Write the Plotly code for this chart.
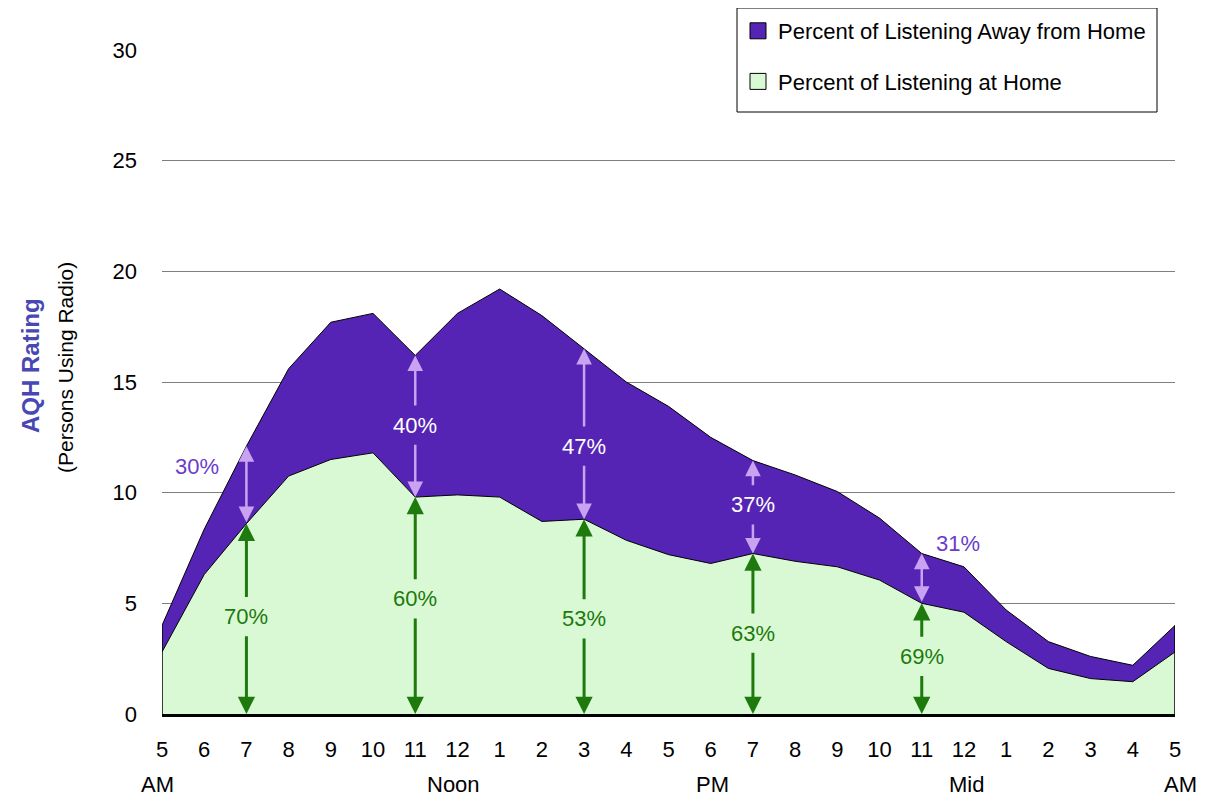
import plotly.graph_objects as go

# ---------------- data ----------------
hour_labels = ["5", "6", "7", "8", "9", "10", "11", "12", "1", "2", "3", "4",
               "5", "6", "7", "8", "9", "10", "11", "12", "1", "2", "3", "4", "5"]
period_labels = ["AM", "Noon", "PM", "Mid", "AM"]
period_pos = [0, 7, 13, 19, 24]

total_rating = [4.0, 8.35, 12.1, 15.6, 17.7, 18.1, 16.2, 18.1, 19.2, 18.0, 16.5, 15.0,
                13.9, 12.5, 11.45, 10.8, 10.05, 8.85, 7.25, 6.65, 4.7, 3.27, 2.6, 2.2, 4.0]
home_rating = [2.8, 6.3, 8.6, 10.75, 11.5, 11.8, 9.8, 9.9, 9.8, 8.7, 8.8, 7.85,
               7.2, 6.8, 7.25, 6.9, 6.65, 6.05, 5.0, 4.6, 3.27, 2.06, 1.6, 1.46, 2.8]

marker_idx = [2, 6, 10, 14, 18]          # 7AM, 11AM, 3PM, 7PM, 11PM
home_pct = ["70%", "60%", "53%", "63%", "69%"]
away_pct = ["30%", "40%", "47%", "37%", "31%"]

x = list(range(len(hour_labels)))

# ---------------- styles ----------------
FONT = "Liberation Sans, Arial, sans-serif"
FS = 22
PURPLE = "#5524b4"
GREEN_FILL = "#d9f9d5"
GREEN_ARROW = "#1e7a0c"
LILAC = "#caa2f2"
LABEL_PURPLE = "#6a3ccc"
TITLE_BLUE = "#4848b4"

W, H = 1197, 790
ML, MR, MT, MB = 154, 30, 42, 84
PW, PH = W - ML - MR, H - MT - MB


def px_to_paper_x(px):
    return (px - ML) / PW


def px_to_paper_y(py):
    return (H - MB - py) / PH


fig = go.Figure()

# stacked areas
fig.add_trace(go.Scatter(x=x, y=home_rating, mode="lines", fill="tozeroy",
                         fillcolor=GREEN_FILL, line=dict(color="black", width=1),
                         showlegend=False, hoverinfo="skip"))
fig.add_trace(go.Scatter(x=x, y=total_rating, mode="lines", fill="tonexty",
                         fillcolor=PURPLE, line=dict(color="black", width=1),
                         showlegend=False, hoverinfo="skip"))
# edges of the area at the ends
for i in (0, len(x) - 1):
    fig.add_trace(go.Scatter(x=[x[i], x[i]], y=[0, total_rating[i]], mode="lines",
                             line=dict(color="black", width=1.5),
                             showlegend=False, hoverinfo="skip"))

# legend entries
fig.add_trace(go.Scatter(x=[None], y=[None], mode="markers", legendgroup="away",
                         name="Percent of Listening Away from Home",
                         marker=dict(symbol="square", size=16, color=PURPLE,
                                     line=dict(color="black", width=1))))
fig.add_trace(go.Scatter(x=[None], y=[None], mode="markers", legendgroup="home",
                         name="Percent of Listening at Home",
                         marker=dict(symbol="square", size=16, color=GREEN_FILL,
                                     line=dict(color="black", width=1))))

annotations = []


def arrow(xh, yh, xt, yt, color, width, size, both=False):
    annotations.append(dict(x=xh, y=yh, ax=xt, ay=yt, xref="x", yref="y",
                            axref="x", ayref="y", text="", showarrow=True,
                            arrowhead=2, arrowsize=size, arrowwidth=width,
                            arrowcolor=color,
                            arrowside="end+start" if both else "end",
                            startarrowhead=2, startarrowsize=size))


def label(xp, yp, txt, color):
    annotations.append(dict(x=xp, y=yp, xref="x", yref="y", text=txt,
                            showarrow=False, xanchor="center", yanchor="middle",
                            font=dict(family=FONT, size=FS, color=color)))


GAP = 0.82
green_label_y = [4.4, 5.2, 4.3, 3.65, 2.6]
white_label_y = [None, 13.05, 12.1, 9.45, None]

for k, i in enumerate(marker_idx):
    xi = x[i]
    h = home_rating[i]
    t = total_rating[i]
    gy = green_label_y[k]
    # green arrows (home share)
    arrow(xi, 0, xi, gy - GAP, GREEN_ARROW, 3, 1.15)
    arrow(xi, h, xi, gy + GAP, GREEN_ARROW, 3, 1.15)
    label(xi, gy, home_pct[k], GREEN_ARROW)
    # lilac arrows (away share)
    wy = white_label_y[k]
    if wy is None:
        arrow(xi, t, xi, h, LILAC, 2.5, 1.25, both=True)
    else:
        arrow(xi, h, xi, wy - GAP, LILAC, 2.5, 1.25)
        arrow(xi, t, xi, wy + GAP, LILAC, 2.5, 1.25)
        label(xi, wy, away_pct[k], "white")

# outside away labels
label(x[0] + 0.82, 11.2, away_pct[0], LABEL_PURPLE)
label(x[18] + 0.87, 7.7, away_pct[4], LABEL_PURPLE)

# period labels under hour ticks
shifts = [-5, -4, 2, 3, 5]
for p, txt, s in zip(period_pos, period_labels, shifts):
    annotations.append(dict(x=p, y=px_to_paper_y(776), xref="x", yref="paper", text=txt,
                            showarrow=False, xshift=s, xanchor="center", yanchor="middle",
                            font=dict(family=FONT, size=FS, color="black")))

# y-axis title (two lines)
annotations.append(dict(x=px_to_paper_x(22), y=px_to_paper_y(358), xref="paper", yref="paper",
                        text="<b>AQH Rating</b>", textangle=-90, showarrow=False,
                        xanchor="center", yanchor="middle",
                        font=dict(family=FONT, size=24, color=TITLE_BLUE)))
annotations.append(dict(x=px_to_paper_x(57), y=px_to_paper_y(360), xref="paper", yref="paper",
                        text="(Persons Using Radio)", textangle=-90, showarrow=False,
                        xanchor="center", yanchor="middle",
                        font=dict(family=FONT, size=21, color="black")))

# legend frame
shapes = [dict(type="rect", xref="paper", yref="paper", layer="above",
               x0=px_to_paper_x(729), x1=px_to_paper_x(1149),
               y0=px_to_paper_y(104), y1=px_to_paper_y(0),
               fillcolor="white", line=dict(color="black", width=1))]

fig.update_layout(
    width=W, height=H, autosize=False,
    margin=dict(l=ML, r=MR, t=MT, b=MB, autoexpand=False),
    paper_bgcolor="white", plot_bgcolor="white",
    font=dict(family=FONT, size=FS, color="black"),
    showlegend=True,
    legend=dict(x=px_to_paper_x(730), xanchor="left", y=px_to_paper_y(2), yanchor="top",
                bgcolor="rgba(0,0,0,0)", borderwidth=0,
                font=dict(family=FONT, size=FS, color="black"),
                traceorder="grouped", tracegroupgap=19),
    annotations=annotations,
    shapes=shapes,
    xaxis=dict(range=[0, 24], tickmode="array", tickvals=x, ticktext=hour_labels,
               showgrid=False, zeroline=False, showline=True, linecolor="black",
               linewidth=3, ticks="", ticklabelstandoff=14,
               tickfont=dict(family=FONT, size=FS, color="black")),
    yaxis=dict(range=[0, 30], tickmode="array", tickvals=[0, 5, 10, 15, 20, 25, 30],
               showgrid=True, gridcolor="#7f7f7f", gridwidth=1, zeroline=False,
               showline=False, ticks="", ticklabelstandoff=24,
               tickfont=dict(family=FONT, size=FS, color="black")),
)

fig.write_html("out.html")
